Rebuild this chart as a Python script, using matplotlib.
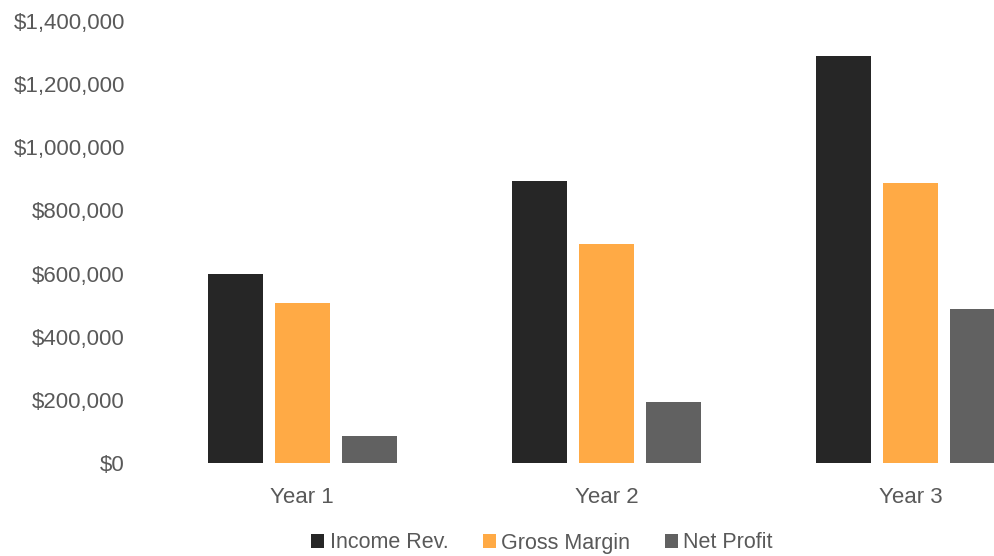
#
# Income, gross margin and net profit by year
#

import numpy as np
import matplotlib.pyplot as plt
from matplotlib.ticker import FuncFormatter

plt.rcParams.update(
    {
        "font.family": "Liberation Sans",
        "font.size": 16,
    }
)

years = ["Year 1", "Year 2", "Year 3"]
income_rev = [600000, 893000, 1290000]
gross_margin = [506000, 693000, 886000]
net_profit = [86000, 193000, 488000]

series = [
    ("Income Rev.", income_rev, "#262626"),
    ("Gross Margin", gross_margin, "#FFAA45"),
    ("Net Profit", net_profit, "#616161"),
]

fig = plt.figure(figsize=(9.95, 5.56), dpi=100)
ax = fig.add_axes([150 / 995, 1 - 463 / 556, 913 / 995, 442 / 556])

x = np.arange(len(years))
width = 0.18
step = 0.22
for i, (name, vals, color) in enumerate(series):
    ax.bar(x + (i - 1) * step, vals, width, color=color, label=name)

ax.set_xlim(-0.5, 2.5)
ax.set_ylim(0, 1400000)
ax.set_yticks(np.arange(0, 1400001, 200000))
ax.yaxis.set_major_formatter(FuncFormatter(lambda v, p: "${:,.0f}".format(v)))
ax.set_xticks(x)
ax.set_xticklabels(years)

for s in ax.spines.values():
    s.set_visible(False)
ax.tick_params(length=0, colors="#595959", labelsize=16)
ax.tick_params(axis="x", pad=17)
ax.tick_params(axis="y", pad=18)

leg = fig.legend(
    loc="center",
    bbox_to_anchor=(542 / 995, 1 - 543 / 556),
    ncol=3,
    frameon=False,
    handlelength=0.6,
    handleheight=0.6,
    handletextpad=0.25,
    columnspacing=1.6,
    fontsize=15.5,
    labelcolor="#595959",
)
for t in leg.get_texts():
    t.set_va("baseline")

fig.savefig("out.png", dpi=100)
